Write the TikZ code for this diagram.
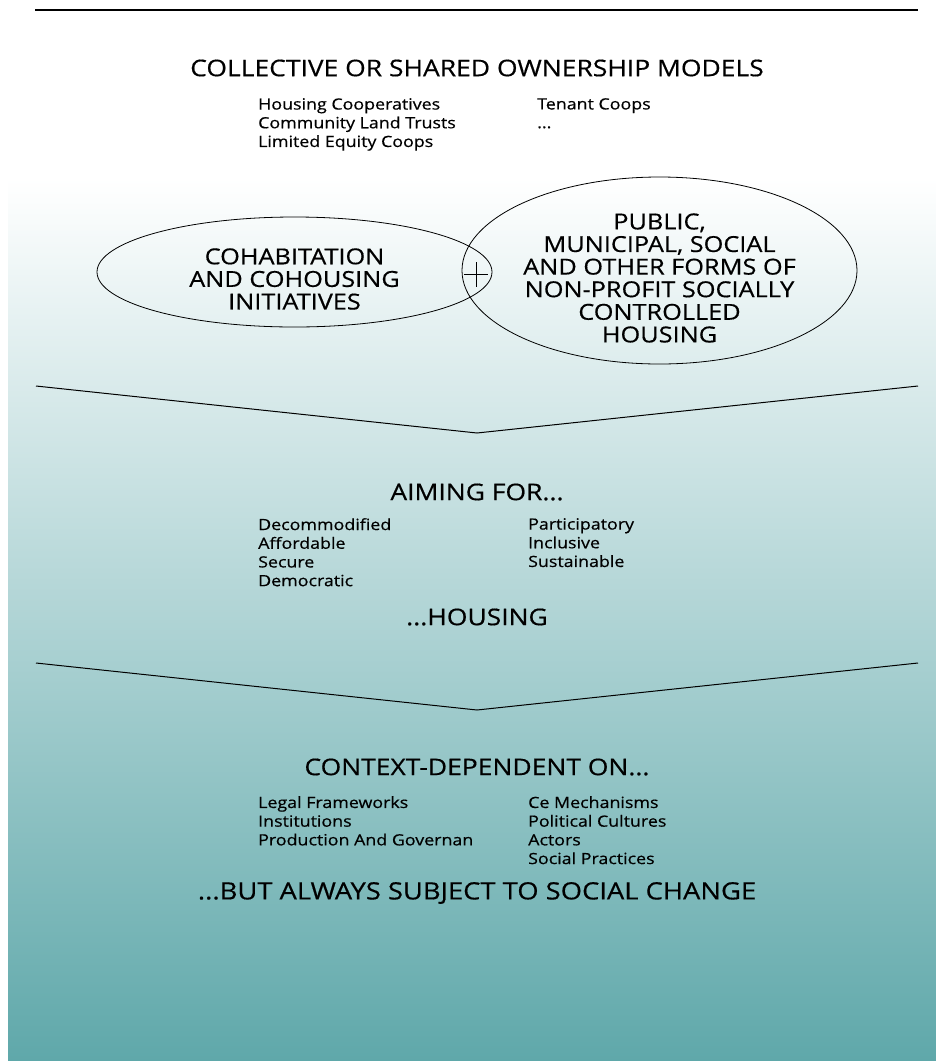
\documentclass[tikz,border=0pt]{standalone}
\usepackage{fontspec}
\setmainfont[FakeStretch=1.15, FakeBold=0.5]{Open Sans}
\usetikzlibrary{positioning, shapes.geometric}

\definecolor{tealbot}{HTML}{5FA8AA}

\tikzset{
    heading/.style={font=\fontsize{23}{27}\selectfont, inner sep=0pt},
    bubble/.style={draw, line width=0.8pt, ellipse, inner sep=0pt},
    bubbletext/.style={font=\fontsize{22}{22.6}\selectfont, align=center, inner sep=0pt},
    items/.style={font=\fontsize{15.5}{18.7}\selectfont, align=left, anchor=north west, inner sep=0pt},
    chevron/.style={line width=1pt},
}

\begin{document}
\begin{tikzpicture}[x=1pt, y=-1pt]
    \useasboundingbox (0,0) rectangle (936,1061);
    \shade[top color=white, bottom color=tealbot] (8,178) rectangle (936,1061);
    \draw[line width=1.1pt] (35,10) -- (918,10);

    % ownership models
    \node[heading] (models) at (477,68) {COLLECTIVE OR SHARED OWNERSHIP MODELS};
    \node[items] (modelsA) at (258,98) {Housing Cooperatives\\Community Land Trusts\\Limited Equity Coops};
    \node[items] (modelsB) at (537,98) {Tenant Coops\\...};

    % the two bubbles
    \node[bubble, minimum width=395pt, minimum height=110pt] (cohab) at (294.5,272) {};
    \node[bubble, minimum width=395pt, minimum height=187pt] (public) at (659.5,270.5) {};
    \node[bubbletext] (cohabT) at ([yshift=-7pt]cohab.center) {COHABITATION\\AND COHOUSING\\INITIATIVES};
    \node[bubbletext] (publicT) at ([yshift=-7.5pt]public.center) {PUBLIC,\\MUNICIPAL, SOCIAL\\AND OTHER FORMS OF\\NON-PROFIT SOCIALLY\\CONTROLLED\\HOUSING};
    \node[inner sep=0pt, minimum size=24pt] (plus) at (476,274.5) {};
    \draw[line width=0.8pt] (plus.west) -- (plus.east);
    \draw[line width=0.8pt] (plus.north) -- (plus.south);

    \coordinate (topL) at (36,386);
    \coordinate (topM) at (477,433);
    \coordinate (topR) at (918,386);
    \draw[chevron] (topL) -- (topM) -- (topR);

    % aims
    \node[heading] (aims) at (477,492) {AIMING FOR...};
    \node[items] (aimsA) at (258,518) {Decommodified\\Affordable\\Secure\\Democratic};
    \node[items] (aimsB) at (528,518) {Participatory\\Inclusive\\Sustainable};
    \node[heading] (housing) at (477,617) {...HOUSING};

    \coordinate (lowL) at (36,663);
    \coordinate (lowM) at (477,710);
    \coordinate (lowR) at (918,663);
    \draw[chevron] (lowL) -- (lowM) -- (lowR);

    % context
    \node[heading] (context) at (477,767) {CONTEXT-DEPENDENT ON...};
    \node[items] (ctxA) at (258,796) {Legal Frameworks\\Institutions\\Production And Governan};
    \node[items] (ctxB) at (528,796) {Ce Mechanisms\\Political Cultures\\Actors\\Social Practices};
    \node[heading, font=\fontsize{23.8}{27}\selectfont] (change) at (477,893) {...BUT ALWAYS SUBJECT TO SOCIAL CHANGE};
\end{tikzpicture}
\end{document}
